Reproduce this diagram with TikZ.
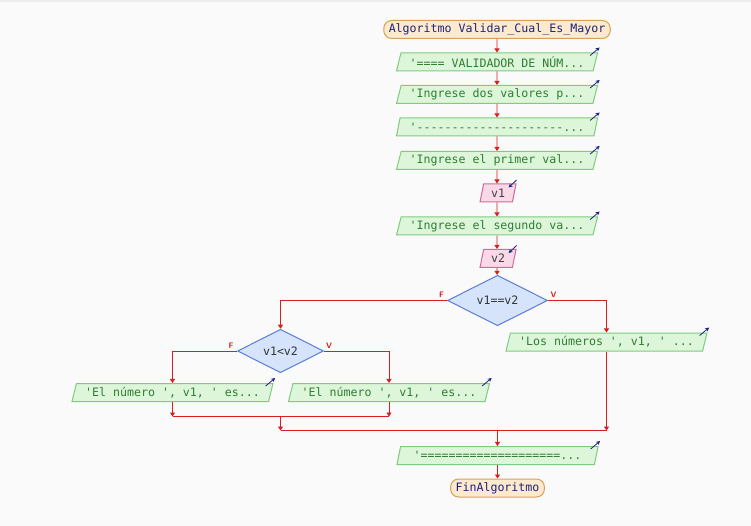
\documentclass[tikz,border=0pt]{standalone}
\usepackage{fontspec}
\setmonofont{DejaVu Sans Mono}
\usetikzlibrary{shapes.geometric,arrows.meta}
\definecolor{bgcol}{HTML}{FAFAFA}
\definecolor{linered}{HTML}{D42020}
\definecolor{outfill}{HTML}{DDF6DA}
\definecolor{outdraw}{HTML}{7FCB7F}
\definecolor{outtext}{HTML}{2E7D32}
\definecolor{infill}{HTML}{F9D9E7}
\definecolor{indraw}{HTML}{D4699A}
\definecolor{decfill}{HTML}{D5E3FB}
\definecolor{decdraw}{HTML}{5A7DD8}
\definecolor{endfill}{HTML}{FDE9CB}
\definecolor{enddraw}{HTML}{D6A15C}
\definecolor{icon}{HTML}{1A237E}
\begin{document}
\begin{tikzpicture}[x=1pt, y=-1pt]
	\tikzstyle{every node}=[inner sep=1pt, align=center, font=\ttfamily\fontsize{11.6}{13}\selectfont]
	\tikzstyle{terminal}=[draw=enddraw, line width=1pt, fill=endfill, text=icon, rounded corners=8pt, minimum height=18pt, inner xsep=5pt]
	\tikzstyle{outbox}=[trapezium, trapezium left angle=71, trapezium right angle=109, trapezium stretches body, draw=outdraw, line width=1pt, fill=outfill, text=outtext, minimum width=201pt, minimum height=18pt]
	\tikzstyle{inbox}=[trapezium, trapezium left angle=71, trapezium right angle=109, trapezium stretches body, draw=indraw, line width=1pt, fill=infill, text=black!75, minimum width=36pt, minimum height=18pt]
	\tikzstyle{decision}=[diamond, draw=decdraw, line width=1pt, fill=decfill, text=black!80, inner sep=0pt]
	\tikzstyle{flow}=[draw=linered, line width=0.9pt, -{Triangle[length=4pt,width=5pt]}]
	\tikzstyle{plain}=[draw=linered, line width=0.9pt]
	\tikzstyle{branch}=[text=linered, font=\sffamily\bfseries\fontsize{8}{8}\selectfont, inner sep=0pt]
	\tikzstyle{outicon}=[draw=icon, line width=0.8pt, -{Stealth[length=4pt,width=4pt]}]
	% background
	\fill[bgcol] (0,0) rectangle (751,526);
	\fill[black!7] (0,0) rectangle (751,2);
	% nodes
	\node[terminal] (start) at (497,29.5) {Algoritmo Validar\_Cual\_Es\_Mayor};
	\node[outbox] (o1) at (497,62) {'==== VALIDADOR DE NÚM...};
	\node[outbox] (o2) at (497,94.5) {'Ingrese dos valores p...};
	\node[outbox] (o3) at (497,127) {'---------------------...};
	\node[outbox] (o4) at (497,160.5) {'Ingrese el primer val...};
	\node[inbox] (i1) at (498,193) {v1};
	\node[outbox] (o5) at (497,226) {'Ingrese el segundo va...};
	\node[inbox] (i2) at (498,258.5) {v2};
	\node[decision, minimum width=100pt, minimum height=35pt] (d1) at (497.5,300.5) {v1==v2};
	\node[outbox] (o6) at (606.5,342) {'Los números ', v1, ' ...};
	\node[decision, minimum width=86pt, minimum height=36pt] (d2) at (280.5,351) {v1<v2};
	\node[outbox] (o7) at (172.5,392.5) {'El número ', v1, ' es...};
	\node[outbox] (o8) at (389,392.5) {'El número ', v1, ' es...};
	\node[outbox] (o9) at (497.5,455.5) {'====================...};
	\node[terminal] (fin) at (497.5,488) {FinAlgoritmo};
	\node[branch] (f1) at (441.5,295) {F};
	\node[branch] (v1) at (553.5,295) {V};
	\node[branch] (f2) at (231,345.5) {F};
	\node[branch] (v2) at (329,345.5) {V};
	\coordinate (j1) at (280.5,416.5);
	\coordinate (j2) at (280.5,430.5);
	% icons
	\foreach \o in {o1,o2,o3,o4,o5,o6,o7,o8,o9}
		\draw[outicon] ([shift={(-8,3)}]\o.top right corner) -- ([shift={(1.5,-5)}]\o.top right corner);
	\foreach \i in {i1,i2}
		\draw[outicon] ([shift={(0,-3.5)}]\i.top right corner) -- ([shift={(-8,4)}]\i.top right corner);
	% connectors
	\draw[flow] (start) -- (o1);
	\draw[flow] (o1) -- (o2);
	\draw[flow] (o2) -- (o3);
	\draw[flow] (o3) -- (o4);
	\draw[flow] (o4) -- (i1.north -| o4);
	\draw[flow] (i1.south -| o4) -- (o5);
	\draw[flow] (o5) -- (i2.north -| o5);
	\draw[flow] (i2.south -| o5) -- (d1);
	\draw[flow] (d1.west) -| (d2.north);
	\draw[flow] (d1.east) -| (o6.north);
	\draw[flow] (d2.west) -| (o7.north);
	\draw[flow] (d2.east) -| (o8.north);
	\draw[flow] (o7.south) -- (o7.south |- j1);
	\draw[flow] (o8.south) -- (o8.south |- j1);
	\draw[plain] (o7.south |- j1) -- (o8.south |- j1);
	\draw[flow] (j1) -- (j2);
	\draw[flow] (o6.south) -- (o6.south |- j2);
	\draw[plain] (j2) -- (o6.south |- j2);
	\draw[flow] (o9.north |- j2) -- (o9.north);
	\draw[flow] (o9) -- (fin);
\end{tikzpicture}
\end{document}
